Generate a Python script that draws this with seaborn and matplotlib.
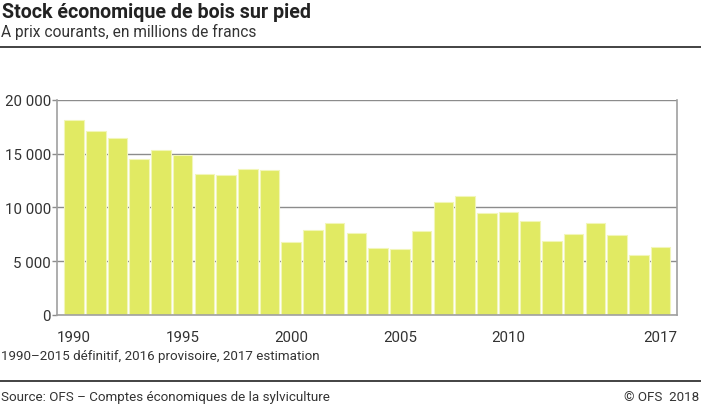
import matplotlib
matplotlib.use("Agg")
import matplotlib.pyplot as plt
import seaborn as sns
import pandas as pd
from matplotlib.ticker import FuncFormatter, MultipleLocator

years = list(range(1990, 2018))
values = [18080, 17120, 16440, 14490, 15330, 14890, 13100, 13000, 13590, 13470,
          6780, 7890, 8510, 7620, 6220, 6130, 7830, 10460, 11080, 9440,
          9540, 8730, 6870, 7490, 8510, 7400, 5600, 6320]
tick_years = [1990, 1995, 2000, 2005, 2010, 2017]

title = "Stock économique de bois sur pied"
subtitle = "A prix courants, en millions de francs"
footnote = "1990–2015 définitif, 2016 provisoire, 2017 estimation"
source = "Source: OFS – Comptes économiques de la sylviculture"
copyright_txt = "© OFS  2018"

sns.set_theme(style="white")
plt.rcParams['font.family'] = ['Roboto', 'DejaVu Sans']

df = pd.DataFrame({"year": [str(y) for y in years], "value": values})

fig = plt.figure(figsize=(7.01, 4.10), dpi=100)
ax = fig.add_axes([57.3/701, 1-316/410, (677.3-57.3)/701, (316-100.7)/410])

sns.barplot(data=df, x="year", y="value", color="#e1ea63", saturation=1,
            width=0.9, edgecolor="#f2f6b8", linewidth=0.8, ax=ax, zorder=2)

ax.set_xlim(-0.77, len(years) - 1 + 0.77)
ax.set_ylim(0, 20000)
ax.yaxis.set_major_locator(MultipleLocator(5000))
ax.yaxis.set_major_formatter(FuncFormatter(lambda v, p: f"{int(v):,}".replace(",", " ")))
ax.set_xticks([years.index(y) for y in tick_years])
ax.set_xticklabels([str(y) for y in tick_years])
ax.set_xlabel("")
ax.set_ylabel("")
ax.grid(axis="y", color="#8c8c8c", linewidth=1, zorder=0)
ax.set_axisbelow(True)
for s in ["left", "bottom", "right"]:
    ax.spines[s].set_visible(True)
    ax.spines[s].set_color("#a0a0a0")
    ax.spines[s].set_linewidth(1.2)
ax.spines["top"].set_visible(False)
ax.tick_params(axis="both", labelsize=10.8, labelcolor="#333333")
ax.tick_params(axis="x", length=0, pad=10.5)
ax.tick_params(axis="y", length=3.5, width=1, color="#8c8c8c", pad=1, left=True)

fig.text(2/701, 1-13/410, title, fontsize=14.1, fontweight="bold", color="#222222", va="center", ha="left")
fig.text(1/701, 1-32/410, subtitle, fontsize=11.2, color="#333333", va="center", ha="left")
fig.add_artist(plt.Line2D([0, 1], [1-47.5/410, 1-47.5/410], color="#222222", linewidth=1.2))
fig.text(1/701, 1-357/410, footnote, fontsize=9.6, color="#333333", va="center", ha="left")
fig.add_artist(plt.Line2D([0, 1], [1-381.5/410, 1-381.5/410], color="#222222", linewidth=1.2))
fig.text(1/701, 1-398/410, source, fontsize=9.65, color="#333333", va="center", ha="left")
fig.text(699/701, 1-398/410, copyright_txt, fontsize=9.65, color="#333333", va="center", ha="right")

fig.savefig("out.png", dpi=100)
